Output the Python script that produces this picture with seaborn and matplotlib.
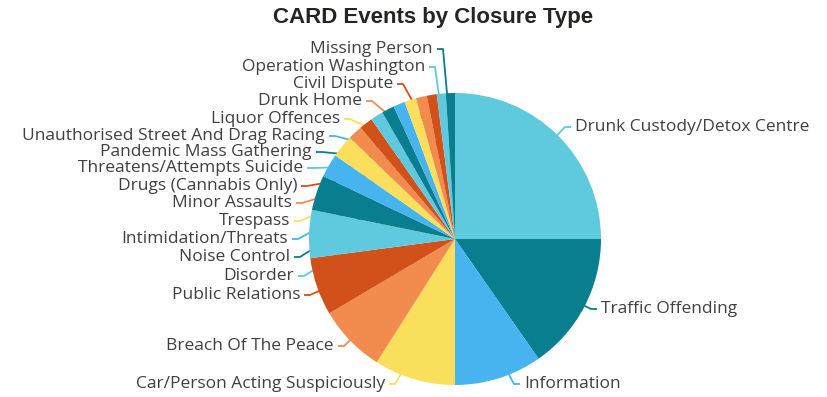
import numpy as np
import matplotlib
matplotlib.use("Agg")
import matplotlib.pyplot as plt
import seaborn as sns

# closure types, sorted by count (clockwise from 12 o'clock)
closure_types = [
    "Drunk Custody/Detox Centre", "Traffic Offending", "Information",
    "Car/Person Acting Suspiciously", "Breach Of The Peace", "Public Relations",
    "Disorder", "Noise Control", "Intimidation/Threats", "Trespass",
    "Minor Assaults", "Drugs (Cannabis Only)", "Threatens/Attempts Suicide",
    "Pandemic Mass Gathering", "Unauthorised Street And Drag Racing",
    "Liquor Offences", "Drunk Home", "Civil Dispute", "Operation Washington",
    "Missing Person",
]
event_counts = [250, 153, 97, 90, 75, 64, 53, 39, 26, 25,
                16, 15, 14, 14, 13, 13, 12, 11, 10, 10]

# label anchors in pixels (x = text edge nearest the pie, y from top)
label_x = [575, 601, 524, 385, 334, 300, 294, 290, 288, 290,
           292, 297, 303, 312, 325, 340, 362, 393, 425, 433]
label_y = [127, 309, 384, 384, 346, 295, 276, 257, 239, 221,
           203, 186, 168, 152, 136, 119, 101, 84, 67, 49]

W, H = 827, 397
cx, cy, radius = 455, 239, 146

sns.set_theme(style="white")
plt.rcParams["font.family"] = ["Open Sans", "DejaVu Sans"]

base = ["#5FC9DD", "#087E8F", "#47B3EF", "#FADF5C", "#F28C4E", "#D2501A"]
palette = sns.color_palette(base * 4)[:len(event_counts)]

fig = plt.figure(figsize=(W / 100, H / 100), dpi=100)
ax = fig.add_axes([0, 0, 1, 1])

wedges, _ = ax.pie(event_counts, colors=palette, startangle=90, counterclock=False,
                   center=(cx, H - cy), radius=radius,
                   wedgeprops=dict(linewidth=0, zorder=2))
ax.set_xlim(0, W)
ax.set_ylim(0, H)
ax.set_aspect("equal")
ax.axis("off")

total = float(sum(event_counts))
cum = np.cumsum([0] + event_counts)
for i, name in enumerate(closure_types):
    mid = (cum[i] + cum[i + 1]) / 2 / total * 2 * np.pi   # clockwise from top
    inner_x = cx + 0.6 * radius * np.sin(mid)
    inner_y = H - (cy - 0.6 * radius * np.cos(mid))
    right_side = label_x[i] > cx
    ly = H - label_y[i]
    if right_side:
        x0 = label_x[i] - 4
        x1 = x0 - 6
        ha = "left"
    else:
        x0 = label_x[i] + 4
        x1 = x0 + 6
        ha = "right"
    ax.plot([x0, x1, inner_x], [ly, ly, inner_y], color=palette[i], lw=1.3,
            zorder=1, solid_capstyle="butt")
    ax.text(label_x[i], ly, name, ha=ha, va="center", fontsize=12.5,
            color="#404040", zorder=3)

ax.text(433, H - 18, "CARD Events by Closure Type", ha="center", va="center",
        fontsize=16, fontweight="bold", color="#252423",
        family=["Liberation Sans", "DejaVu Sans"])

fig.savefig("out.png", dpi=100)
